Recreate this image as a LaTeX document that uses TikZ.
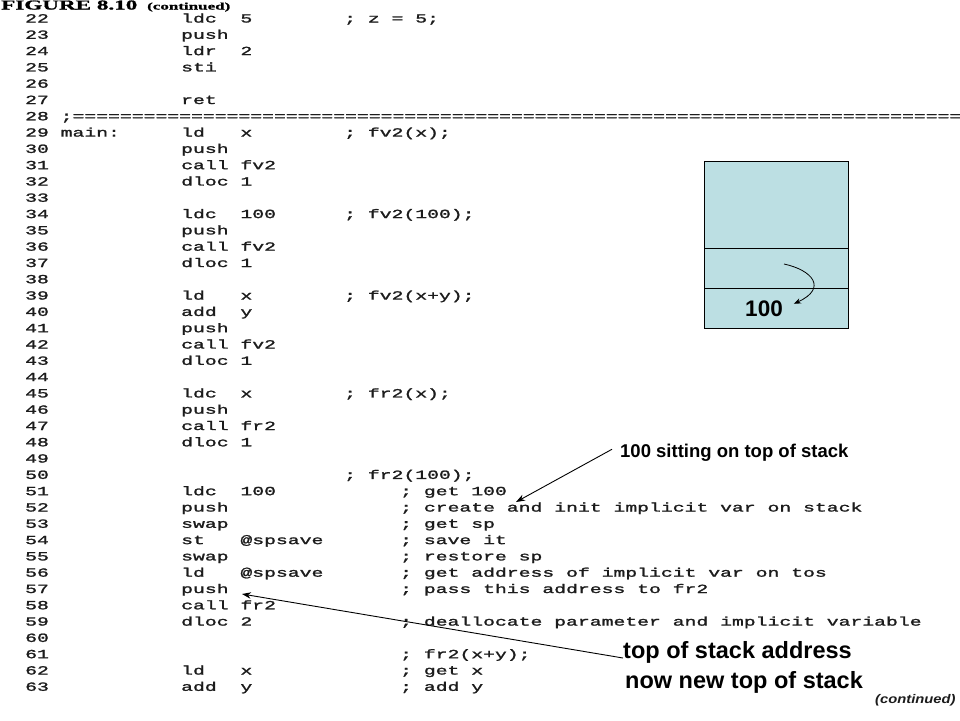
\documentclass[tikz,border=0pt]{standalone}
\usepackage{fontspec}
\usetikzlibrary{arrows.meta}
\setmainfont{Liberation Sans}
\newfontfamily\codefont[FakeStretch=1.58,FakeBold=1.6]{Liberation Mono}
\newfontfamily\hdrfont[FakeStretch=1.7,FakeBold=1.2]{Liberation Serif}
\newfontfamily\endfont[FakeStretch=1.18]{Liberation Sans}
\definecolor{stackfill}{RGB}{188,223,227}
\definecolor{ink}{RGB}{28,28,28}
\tikzset{
  code/.style={anchor=base west, inner sep=0pt, text=ink,
    font=\codefont\fontsize{12.5}{12.5}\selectfont},
  num/.style={code, xshift=25pt},
  lbl/.style={code, xshift=60.5pt},
  ins/.style={code, xshift=181pt},
  opd/.style={code, xshift=240.25pt},
  cma/.style={code, xshift=344pt},
  cmb/.style={code, xshift=400pt},
  cell/.style={draw=black, line width=1.1pt, fill=stackfill,
    minimum width=144pt, inner sep=0pt, anchor=north west},
  callout/.style={anchor=base west, inner sep=0pt, text=black},
  callarrow/.style={-{Stealth[length=9pt,width=6.5pt]}, line width=0.9pt, black},
}
\begin{document}
\begin{tikzpicture}[x=1pt,y=-1pt]
\clip (0,0) rectangle (960,720);
\fill[white] (0,0) rectangle (960,720);
% header
\node[anchor=base west, inner sep=0pt, font=\hdrfont\bfseries\fontsize{13.6}{13.6}\selectfont] (fig) at (1,9.5) {FIGURE 8.10};
\node[anchor=base west, inner sep=0pt, font=\hdrfont\bfseries\fontsize{10}{10}\selectfont] (cont1) at (147,9.5) {(continued)};
% row baselines
\foreach \n in {22,...,63} \coordinate (r\n) at (0,{22.5+(\n-22)*16.3});
\foreach \n in {22,...,63} \node[num] (n\n) at (r\n) {\n};
% code
\node[ins] (i22) at (r22) {ldc};  \node[opd] (o22) at (r22) {5}; \node[cma] (c22) at (r22) {; z = 5;};
\node[ins] (i23) at (r23) {push};
\node[ins] (i24) at (r24) {ldr};  \node[opd] (o24) at (r24) {2};
\node[ins] (i25) at (r25) {sti};
\node[ins] (i27) at (r27) {ret};
\node[lbl] (s28) at (r28) {;==============================================================================};
\node[lbl] (l29) at (r29) {main:};
\node[ins] (i29) at (r29) {ld};   \node[opd] (o29) at (r29) {x}; \node[cma] (c29) at (r29) {; fv2(x);};
\node[ins] (i30) at (r30) {push};
\node[ins] (i31) at (r31) {call}; \node[opd] (o31) at (r31) {fv2};
\node[ins] (i32) at (r32) {dloc}; \node[opd] (o32) at (r32) {1};
\node[ins] (i34) at (r34) {ldc};  \node[opd] (o34) at (r34) {100}; \node[cma] (c34) at (r34) {; fv2(100);};
\node[ins] (i35) at (r35) {push};
\node[ins] (i36) at (r36) {call}; \node[opd] (o36) at (r36) {fv2};
\node[ins] (i37) at (r37) {dloc}; \node[opd] (o37) at (r37) {1};
\node[ins] (i39) at (r39) {ld};   \node[opd] (o39) at (r39) {x}; \node[cma] (c39) at (r39) {; fv2(x+y);};
\node[ins] (i40) at (r40) {add};  \node[opd] (o40) at (r40) {y};
\node[ins] (i41) at (r41) {push};
\node[ins] (i42) at (r42) {call}; \node[opd] (o42) at (r42) {fv2};
\node[ins] (i43) at (r43) {dloc}; \node[opd] (o43) at (r43) {1};
\node[ins] (i45) at (r45) {ldc};  \node[opd] (o45) at (r45) {x}; \node[cma] (c45) at (r45) {; fr2(x);};
\node[ins] (i46) at (r46) {push};
\node[ins] (i47) at (r47) {call}; \node[opd] (o47) at (r47) {fr2};
\node[ins] (i48) at (r48) {dloc}; \node[opd] (o48) at (r48) {1};
\node[cma] (c50) at (r50) {; fr2(100);};
\node[ins] (i51) at (r51) {ldc};  \node[opd] (o51) at (r51) {100}; \node[cmb] (c51) at (r51) {; get 100};
\node[ins] (i52) at (r52) {push}; \node[cmb] (c52) at (r52) {; create and init implicit var on stack};
\node[ins] (i53) at (r53) {swap}; \node[cmb] (c53) at (r53) {; get sp};
\node[ins] (i54) at (r54) {st};   \node[opd] (o54) at (r54) {@spsave}; \node[cmb] (c54) at (r54) {; save it};
\node[ins] (i55) at (r55) {swap}; \node[cmb] (c55) at (r55) {; restore sp};
\node[ins] (i56) at (r56) {ld};   \node[opd] (o56) at (r56) {@spsave}; \node[cmb] (c56) at (r56) {; get address of implicit var on tos};
\node[ins] (i57) at (r57) {push}; \node[cmb] (c57) at (r57) {; pass this address to fr2};
\node[ins] (i58) at (r58) {call}; \node[opd] (o58) at (r58) {fr2};
\node[ins] (i59) at (r59) {dloc}; \node[opd] (o59) at (r59) {2}; \node[cmb] (c59) at (r59) {; deallocate parameter and implicit variable};
\node[cmb] (c61) at (r61) {; fr2(x+y);};
\node[ins] (i62) at (r62) {ld};   \node[opd] (o62) at (r62) {x}; \node[cmb] (c62) at (r62) {; get x};
\node[ins] (i63) at (r63) {add};  \node[opd] (o63) at (r63) {y}; \node[cmb] (c63) at (r63) {; add y};
\node[anchor=base west, inner sep=0pt, text=ink, font=\endfont\bfseries\itshape\fontsize{12.5}{12.5}\selectfont] (cont2) at (875,703) {(continued)};
% stack
\node[cell, minimum height=87pt] (top) at (704,161) {};
\node[cell, minimum height=40pt] (mid) at (704,248) {};
\node[cell, minimum height=40pt] (bot) at (704,288) {};
\node[anchor=base, inner sep=0pt, font=\bfseries\fontsize{22.5}{22.5}\selectfont] (val) at (764,316.5) {100};
\coordinate (cst) at (784,264);
\draw[callarrow, line width=0.8pt, -{Stealth[length=7pt,width=5.5pt]}] (cst) .. controls (812,270) and (828,288) .. ([xshift=11pt,yshift=5pt]val.east);
% callouts
\node[callout, font=\bfseries\fontsize{18.5}{18.5}\selectfont] (sit) at (620,457) {100 sitting on top of stack};
\node[callout, font=\bfseries\fontsize{23.5}{23.5}\selectfont] (tsa) at (623,658) {top of stack address};
\node[callout, font=\bfseries\fontsize{23.5}{23.5}\selectfont] (nnt) at (625,688) {now new top of stack};
\coordinate (andpt) at (516,502);
\coordinate (pushpt) at (242,594);
\draw[callarrow] ([xshift=-8pt,yshift=3pt]sit.west) -- (andpt);
\draw[callarrow] (tsa.base west) -- (pushpt);
\end{tikzpicture}
\end{document}
